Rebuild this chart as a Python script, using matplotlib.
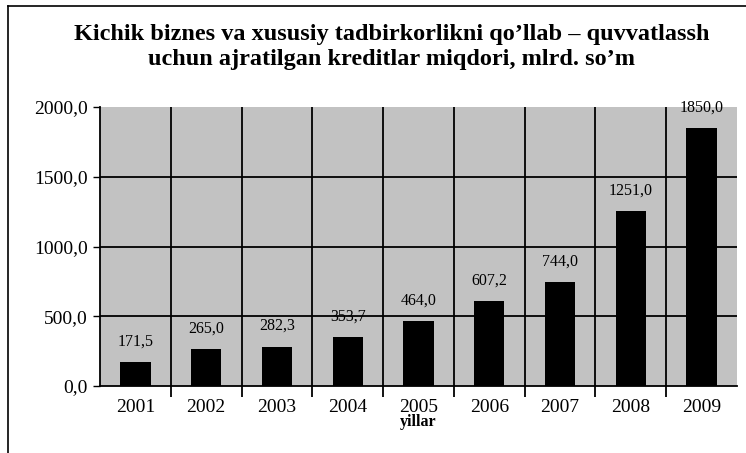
import matplotlib.pyplot as plt
from matplotlib.lines import Line2D
from matplotlib.ticker import FixedLocator

years = ['2001', '2002', '2003', '2004', '2005', '2006', '2007', '2008', '2009']
credits = [171.5, 265.0, 282.3, 353.7, 464.0, 607.2, 744.0, 1251.0, 1850.0]
yticks = [0, 500, 1000, 1500, 2000]

plt.rcParams['font.family'] = 'Liberation Serif'

fig = plt.figure(figsize=(7.46, 4.53), dpi=100)
ax = fig.add_axes([100 / 746, 1 - 386 / 453, 637 / 746, 279 / 453])
ax.set_facecolor('#c2c2c2')

x = range(len(years))
ax.bar(x, credits, width=0.43, color='black', zorder=3)

for xi, v in zip(x, credits):
    ax.annotate(f'{v:.1f}'.replace('.', ','), (xi, v), xytext=(0, 9),
                textcoords='offset points', ha='center', va='bottom',
                fontsize=11.5, zorder=4, annotation_clip=False)

ax.set_xlim(-0.5, len(years) - 0.5)
ax.set_ylim(0, 2000)
ax.set_yticks(yticks)
ax.set_yticklabels([f'{t:.1f}'.replace('.', ',') for t in yticks], fontsize=14)
for t in yticks[1:-1]:
    ax.axhline(t, color='black', lw=1.3, zorder=2)

ax.set_xticks(list(x))
ax.set_xticklabels(years, fontsize=14)
ax.tick_params(axis='x', which='major', length=0, pad=9)
ax.xaxis.set_minor_locator(FixedLocator([i + 0.5 for i in x][:-1]))
ax.tick_params(axis='x', which='minor', length=8, width=1.3, direction='out')
ax.grid(axis='x', which='minor', color='black', lw=1.3, zorder=2)
ax.tick_params(axis='y', length=5, width=1, direction='out', pad=4)

ax.spines['top'].set_visible(False)
ax.spines['right'].set_visible(False)
ax.spines['left'].set_linewidth(1.3)
ax.spines['bottom'].set_linewidth(1.3)
ax.set_axisbelow(False)

ax.set_xlabel('yillar', fontsize=11.5, fontweight='bold', labelpad=-1)

fig.text(0.525, 1 - 47 / 453, "Kichik biznes va xususiy tadbirkorlikni qo\u2019llab \u2013 quvvatlassh\n"
         "uchun ajratilgan kreditlar miqdori, mlrd. so\u2019m",
         ha='center', va='center', fontsize=17.5, fontweight='bold', linespacing=1.2)

fig.add_artist(Line2D([8 / 746, 8 / 746], [0, 1 - 6 / 453], color='black', lw=1.2))
fig.add_artist(Line2D([8 / 746, 1], [1 - 6 / 453, 1 - 6 / 453], color='black', lw=1.2))

fig.savefig('out.png', dpi=100)
